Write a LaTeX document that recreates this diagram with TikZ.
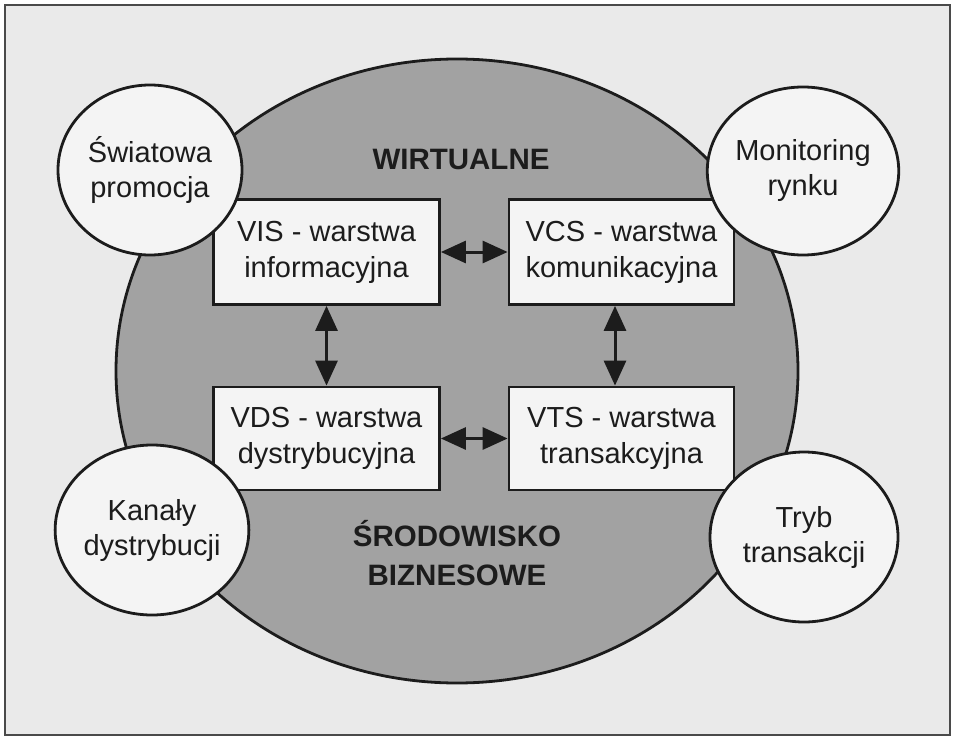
\documentclass[tikz,border=0pt]{standalone}
\usepackage{fontspec}
\setmainfont{Liberation Sans}
\usetikzlibrary{shapes.geometric,arrows.meta}

\definecolor{paper}{HTML}{EAEAEA}
\definecolor{frameline}{HTML}{4A4A4A}
\definecolor{envgrey}{HTML}{A2A2A2}
\definecolor{boxwhite}{HTML}{F4F4F4}
\definecolor{ink}{HTML}{1C1C1C}

\tikzset{
  layerbox/.style={draw=ink, line width=2.8pt, fill=boxwhite, text=ink,
    minimum width=226pt, minimum height=105pt, inner sep=0pt, align=center,
    font=\fontsize{29}{36}\selectfont},
  bubble/.style={draw=ink, line width=2.8pt, fill=boxwhite, text=ink, ellipse,
    inner sep=0pt, align=center, font=\fontsize{29}{35}\selectfont},
  heading/.style={text=ink, align=center, font=\fontsize{29.5}{39}\selectfont\bfseries},
  link/.style={draw=ink, line width=3pt,
    {Triangle[length=25pt,width=22pt]}-{Triangle[length=25pt,width=22pt]}}
}

\begin{document}
\begin{tikzpicture}[x=1pt,y=-1pt]
  % page
  \fill[white] (0,0) rectangle (955,738);
  \useasboundingbox (0,0) rectangle (955,738);
  \draw[frameline, line width=2pt, fill=paper] (5,5) rectangle (950,735);

  % business environment
  \node[draw=ink, line width=2.8pt, fill=envgrey, ellipse, inner sep=0pt,
        minimum width=682pt, minimum height=624pt] (env) at (457,371) {};

  \node[heading] (virt) at (461,159) {WIRTUALNE};
  \node[heading] (biz) at (457,553) {ŚRODOWISKO\\BIZNESOWE};

  % four layers
  \node[layerbox] (vis) at (326.5,252) {VIS - warstwa\\informacyjna};
  \node[layerbox, minimum width=225pt] (vcs) at (621.5,252) {VCS - warstwa\\komunikacyjna};
  \node[layerbox, minimum height=103pt] (vds) at (326.5,438.5) {VDS - warstwa\\dystrybucyjna};
  \node[layerbox, minimum width=225pt, minimum height=103pt] (vts) at (621.5,438.5) {VTS - warstwa\\transakcyjna};

  % links between layers
  \draw[link] (vis.east) -- (vcs.west);
  \draw[link] (vds.east) -- (vts.west);
  \draw[link] (vis.south) -- (vds.north);
  \draw[link] ([xshift=-6.5pt]vcs.south) -- ([xshift=-6.5pt]vts.north);

  % surrounding functions
  \node[bubble, minimum width=184pt, minimum height=170pt] (prom) at (150,170) {Światowa\\promocja};
  \node[bubble, minimum width=184pt, minimum height=168pt] (mon) at (803,171) {Monitoring\\rynku};
  \node[bubble, minimum width=184pt, minimum height=170pt] (chan) at (152,530) {Kanały\\dystrybucji};
  \node[bubble, minimum width=188pt, minimum height=170pt] (mode) at (804,537) {Tryb\\transakcji};
\end{tikzpicture}
\end{document}
